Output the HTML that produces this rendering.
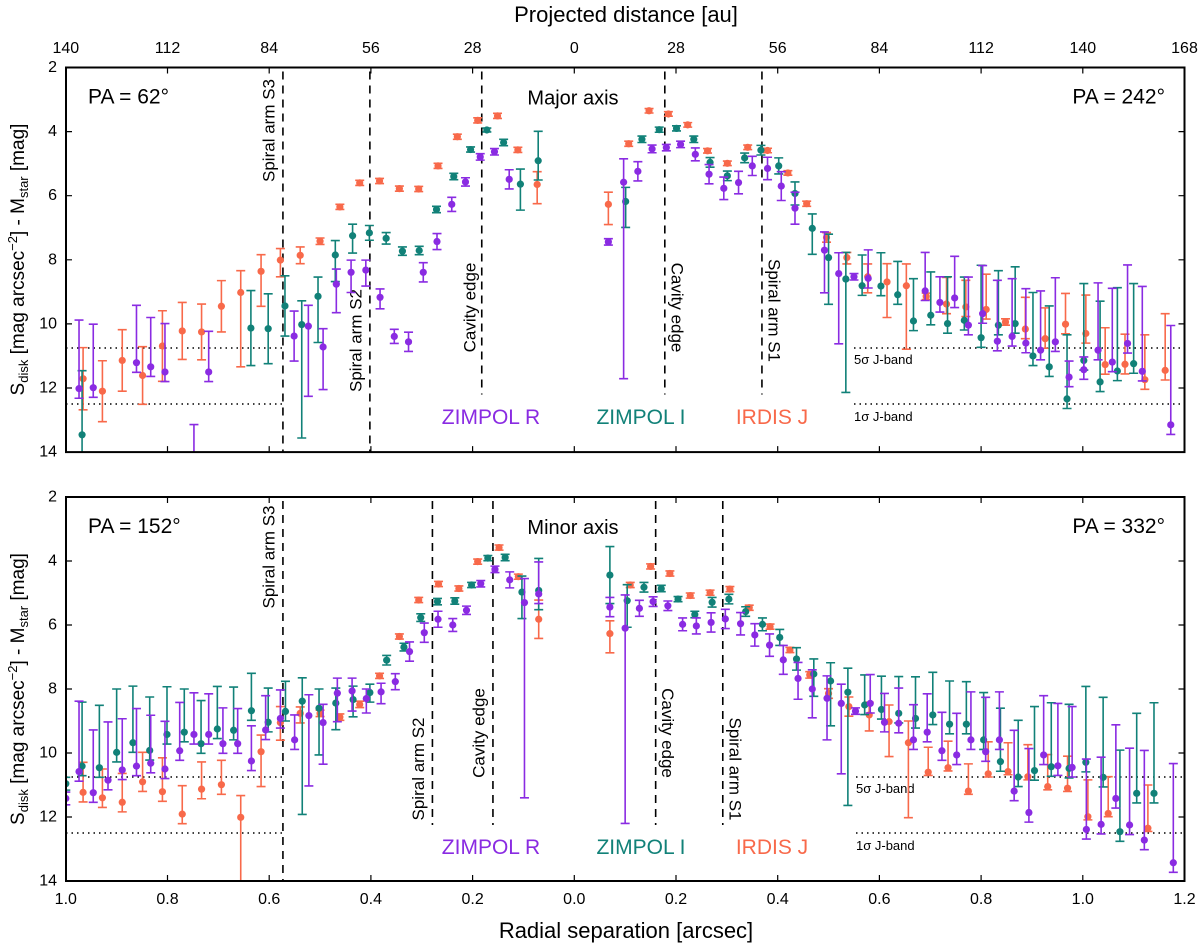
<!DOCTYPE html>
<html><head><meta charset="utf-8">
<style>
html,body{margin:0;padding:0;background:#fff;}
svg{display:block;font-family:"Liberation Sans",sans-serif;}
</style></head>
<body>
<svg id="chart" width="1200" height="948" viewBox="0 0 1200 948" xmlns="http://www.w3.org/2000/svg"></svg>
<script>
// ---------- DATA ----------
const xTicks = [-1.0,-0.8,-0.6,-0.4,-0.2,0.0,0.2,0.4,0.6,0.8,1.0,1.2];
const xTickLabels = ["1.0","0.8","0.6","0.4","0.2","0.0","0.2","0.4","0.6","0.8","1.0","1.2"];
const auTickLabels = ["140","112","84","56","28","0","28","56","84","112","140","168"];
const yTicks = [2,4,6,8,10,12,14];
const seriesNames = ["IRDIS J","ZIMPOL I","ZIMPOL R"];

// Top panel (major axis)
const topJ_r = [-0.966,-0.928,-0.889,-0.849,-0.810,-0.771,-0.733,-0.694,-0.656,-0.616,-0.578,-0.539,-0.500,-0.461,-0.422,-0.383,-0.344,-0.306,-0.268,-0.230,-0.190,-0.151,-0.111,-0.073,
 0.067,0.107,0.147,0.185,0.223,0.262,0.301,0.341,0.380,0.420,0.457,0.496,0.536,0.577,0.615,0.653,0.692,0.732,0.770,0.810,0.848,0.887,0.926,0.966,1.006,1.044,1.083,1.122,1.162];
const topJ_m = [11.71,12.10,11.14,11.61,10.69,10.22,10.25,9.45,9.02,8.36,8.01,7.86,7.42,6.35,5.60,5.54,5.78,5.79,5.07,4.16,3.65,3.51,4.57,5.65,
 6.27,4.38,3.35,3.45,3.79,4.60,4.99,4.49,4.59,5.29,6.25,7.30,7.93,8.53,8.69,8.81,9.14,9.38,9.47,9.55,9.94,10.16,10.46,10.01,10.30,11.27,11.26,11.74,11.45];
const topJ_up = [0.97,0.95,0.96,0.9,1.1,0.89,0.87,0.8,0.68,0.52,0.36,0.26,0.1,0.08,0.08,0.08,0.08,0.08,0.08,0.08,0.08,0.08,0.08,0.4,
 0.38,0.08,0.07,0.07,0.07,0.07,0.07,0.07,0.07,0.07,0.08,0.15,0.16,0.4,0.57,0.68,0.1,0.83,0.83,1.1,0.1,0.99,0.96,0.96,1.2,1.15,0.94,1.4,1.77];
const topJ_dn = [0.97,0.95,0.96,0.9,1.1,0.89,0.87,0.8,2.32,1.09,0.52,0.26,0.1,0.08,0.08,0.08,0.08,0.08,0.08,0.08,0.08,0.08,0.08,0.6,
 0.63,0.08,0.07,0.07,0.07,0.07,0.07,0.07,0.07,0.07,0.08,0.15,0.2,0.5,1.11,1.98,0.1,0.3,0.3,0.3,0.1,0.3,0.3,0.3,0.3,0.3,0.3,0.3,0.3];

const topI_r = [-0.968,-0.636,-0.602,-0.569,-0.536,-0.504,-0.470,-0.436,-0.403,-0.370,-0.338,-0.305,-0.271,-0.237,-0.204,-0.172,-0.139,-0.106,-0.071,
 0.101,0.133,0.167,0.201,0.235,0.267,0.301,0.335,0.367,0.402,0.434,0.468,0.500,0.534,0.566,0.603,0.636,0.667,0.701,0.734,0.767,0.800,0.834,0.867,0.902,0.934,0.969,1.002,1.034,1.068,1.100];
const topI_m = [13.46,10.13,10.15,9.44,10.02,9.14,7.85,7.25,7.16,7.33,7.73,7.71,6.43,5.40,4.56,3.95,4.34,5.64,4.91,
 6.18,4.24,3.94,3.90,4.24,4.96,5.38,4.82,4.58,5.07,5.93,7.02,7.93,8.60,8.81,8.82,9.09,9.91,9.73,9.99,9.89,10.43,10.04,9.99,11.0,11.34,12.34,11.14,11.81,11.47,11.24];
const topI_up = [2.0,1.17,1.09,0.94,0.74,0.6,0.45,0.36,0.23,0.18,0.13,0.13,0.1,0.1,0.08,0.06,0.1,0.47,0.92,
 0.44,0.1,0.08,0.08,0.1,0.15,0.15,0.15,0.15,0.25,0.36,0.45,0.73,0.83,0.96,1.04,1.04,1.32,1.35,1.46,1.35,2.26,1.7,1.77,1.98,1.9,2.0,2.4,2.52,2.6,2.5];
const topI_dn = [2.0,1.17,1.09,0.94,3.54,1.44,0.83,0.54,0.23,0.18,0.13,0.13,0.1,0.1,0.08,0.06,0.1,0.81,0.6,
 0.81,0.1,0.08,0.08,0.1,0.15,0.15,0.15,0.15,0.25,0.36,0.81,1.46,3.54,0.3,0.3,0.3,0.3,0.3,0.3,0.3,0.3,0.3,0.3,0.3,0.3,0.3,0.3,0.3,0.3,0.3];

const topR_r = [-0.974,-0.946,-0.861,-0.833,-0.805,-0.748,-0.719,-0.551,-0.523,-0.494,-0.468,-0.439,-0.410,-0.382,-0.354,-0.326,-0.297,-0.270,-0.241,-0.214,-0.185,-0.157,-0.128,
 0.067,0.097,0.125,0.153,0.181,0.209,0.238,0.265,0.294,0.323,0.350,0.380,0.407,0.434,0.492,0.520,0.550,0.578,0.690,0.719,0.748,0.775,0.803,0.832,0.861,0.888,0.917,0.946,0.973,1.002,1.030,1.058,1.088,1.117,1.173];
const topR_m = [12.02,11.99,11.21,11.34,11.50,14.6,11.50,10.38,10.07,10.72,8.76,8.39,8.32,9.17,10.39,10.56,8.39,7.43,6.27,5.57,4.79,4.63,5.49,
 7.44,5.58,5.24,4.54,4.50,4.40,4.71,5.33,5.77,5.59,5.07,5.15,5.70,6.39,7.70,8.43,8.53,8.58,8.97,9.33,9.19,10.04,9.68,10.54,10.39,10.6,10.82,10.56,11.66,11.43,10.82,11.19,10.61,11.48,13.15];
const topR_up = [2.14,1.98,1.79,1.54,1.51,1.46,1.27,0.78,0.65,0.57,0.47,0.38,0.31,0.26,0.22,0.3,0.3,0.25,0.22,0.13,0.1,0.1,0.3,
 0.1,0.73,0.3,0.12,0.1,0.1,0.2,0.3,0.35,0.35,0.3,0.35,0.45,0.5,0.57,0.65,0.1,0.89,1.2,0.8,1.3,1.5,1.5,1.9,1.8,1.7,1.85,2.0,0.5,0.4,2.1,2.3,2.45,2.65,3.1];
const topR_dn = [0.3,0.3,0.3,0.3,0.3,0.3,0.3,0.78,2.19,1.33,0.89,0.63,0.5,0.36,0.22,0.3,0.3,0.25,0.22,0.13,0.1,0.1,0.3,
 0.1,6.13,0.3,0.12,0.1,0.1,0.2,0.3,0.35,0.35,0.3,0.35,0.45,0.5,1.33,2.19,0.1,0.3,0.3,0.3,0.3,0.3,0.3,0.3,0.3,0.3,0.3,0.3,0.3,0.3,0.3,0.3,0.3,0.3,0.3];

// Bottom panel (minor axis)
const botJ_r = [-0.966,-0.928,-0.889,-0.849,-0.810,-0.771,-0.733,-0.694,-0.656,-0.616,-0.578,-0.539,-0.500,-0.461,-0.422,-0.383,-0.344,-0.306,-0.267,-0.227,-0.190,-0.148,-0.110,-0.070,
 0.070,0.110,0.150,0.188,0.228,0.267,0.306,0.344,0.385,0.424,0.463,0.500,0.540,0.580,0.619,0.657,0.696,0.735,0.775,0.814,0.853,0.892,0.931,0.970,1.010,1.050,1.128];
const botJ_m = [11.23,11.40,11.54,10.90,11.21,11.91,11.13,10.99,12.01,9.96,9.05,8.76,8.76,8.88,8.48,7.59,6.36,5.22,4.72,4.86,4.02,3.58,4.49,5.82,
 6.27,4.75,4.17,4.39,5.08,4.99,4.88,5.46,6.05,6.78,7.56,8.14,8.55,8.81,9.02,9.68,10.60,10.46,11.19,10.65,10.58,10.74,11.05,11.10,11.99,11.89,12.35];
const botJ_up = [0.94,0.9,0.9,0.92,1.06,0.89,0.85,0.76,0.68,0.52,0.5,0.2,0.1,0.1,0.1,0.08,0.08,0.08,0.08,0.08,0.08,0.08,0.08,0.6,
 0.4,0.08,0.08,0.08,0.08,0.08,0.08,0.08,0.08,0.08,0.1,0.15,0.3,0.4,0.52,0.68,0.78,0.83,0.85,1.0,0.9,1.0,1.0,1.0,1.15,1.15,1.35];
const botJ_dn = [0.3,0.3,0.3,0.3,0.3,0.3,0.3,0.3,2.5,1.09,0.55,0.3,0.1,0.1,0.1,0.08,0.08,0.08,0.08,0.08,0.08,0.08,0.08,0.6,
 0.6,0.08,0.08,0.08,0.08,0.08,0.08,0.08,0.08,0.08,0.1,0.15,0.3,0.5,1.09,2.34,0.1,0.1,0.1,0.1,0.1,0.1,0.1,0.1,0.1,0.1,0.1];

const botI_r = [-1.000,-0.968,-0.934,-0.900,-0.868,-0.835,-0.801,-0.767,-0.734,-0.702,-0.670,-0.635,-0.602,-0.568,-0.535,-0.502,-0.469,-0.435,-0.402,-0.369,-0.335,-0.302,-0.269,-0.235,-0.202,-0.170,-0.136,-0.103,-0.070,
 0.070,0.104,0.137,0.171,0.204,0.237,0.271,0.304,0.337,0.370,0.404,0.437,0.471,0.504,0.538,0.571,0.604,0.638,0.671,0.705,0.738,0.771,0.805,0.838,0.873,0.905,0.938,0.973,1.006,1.040,1.073,1.106,1.140];
const botI_m = [10.96,10.41,10.46,9.98,9.68,9.92,9.42,9.35,9.71,9.25,9.29,8.68,9.04,8.70,8.38,8.60,8.44,8.33,8.11,7.10,6.69,5.77,5.27,5.25,4.75,3.91,3.89,4.97,4.92,
 4.44,5.24,4.82,4.86,5.19,5.67,5.29,5.19,5.58,5.98,6.39,7.06,7.53,7.75,8.10,8.5,8.64,8.76,8.92,8.81,9.10,9.10,9.59,10.27,10.75,10.55,10.43,10.48,10.29,10.76,12.46,11.26,11.26];
const botI_up = [0.2,2.0,1.95,1.98,1.77,1.67,1.49,1.35,1.35,1.33,1.35,1.17,1.07,0.94,0.73,0.6,0.47,0.42,0.26,0.15,0.12,0.12,0.1,0.1,0.08,0.08,0.1,0.5,1.0,
 0.89,0.5,0.15,0.1,0.08,0.1,0.15,0.15,0.15,0.2,0.25,0.35,0.47,0.57,0.75,0.94,1.04,1.15,1.3,1.33,1.35,1.33,1.48,1.67,1.77,2.0,2.0,2.0,2.37,2.5,2.55,2.5,2.83];
const botI_dn = [0.2,0.3,0.3,0.3,0.3,0.3,0.3,0.3,0.3,0.3,0.3,0.3,0.3,0.3,3.54,1.46,0.83,0.54,0.3,0.15,0.12,0.12,0.1,0.1,0.08,0.08,0.1,0.83,0.6,
 0.89,0.83,0.15,0.1,0.08,0.1,0.15,0.15,0.15,0.2,0.25,0.35,0.7,1.4,3.54,0.3,0.3,0.3,0.3,0.3,0.3,0.3,0.3,0.3,0.3,0.3,0.3,0.3,0.3,0.3,0.3,0.3,0.3];

const botR_r = [-1.0,-0.974,-0.946,-0.917,-0.889,-0.861,-0.833,-0.805,-0.776,-0.748,-0.719,-0.691,-0.662,-0.635,-0.607,-0.578,-0.550,-0.522,-0.494,-0.466,-0.437,-0.409,-0.380,-0.352,-0.324,-0.295,-0.268,-0.239,-0.212,-0.184,-0.156,-0.127,-0.098,-0.070,
 0.070,0.100,0.128,0.155,0.184,0.213,0.240,0.269,0.297,0.327,0.355,0.384,0.411,0.440,0.468,0.497,0.525,0.553,0.582,0.610,0.638,0.667,0.694,0.723,0.752,0.780,0.809,0.836,0.865,0.894,0.923,0.951,0.979,1.007,1.036,1.065,1.092,1.121,1.178];
const botR_m = [11.42,10.58,11.24,10.85,10.53,10.41,10.32,10.50,9.93,9.42,9.42,9.71,9.71,10.25,9.28,8.92,9.59,8.83,9.05,8.13,8.06,8.30,8.09,7.77,6.83,6.24,5.82,6.0,5.54,4.71,4.26,4.59,5.30,5.03,
 5.44,6.10,5.48,5.27,5.40,5.98,6.03,5.92,5.81,5.96,6.31,6.63,7.09,7.67,8.0,8.29,8.45,8.69,8.45,9.04,9.07,9.59,9.35,9.93,10.06,9.59,9.96,9.59,11.19,11.86,10.06,10.40,10.45,12.39,12.23,11.42,12.25,12.72,13.43];
const botR_up = [0.2,2.2,1.96,1.82,1.6,1.8,1.5,1.49,1.51,1.3,1.27,1.12,1.1,1.1,1.07,0.89,0.78,0.65,0.57,0.47,0.4,0.3,0.27,0.25,0.3,0.3,0.25,0.2,0.13,0.1,0.1,0.25,0.75,1.0,
 0.3,1.04,0.25,0.15,0.15,0.2,0.25,0.3,0.3,0.35,0.35,0.35,0.45,0.5,0.6,0.7,0.6,0.1,0.9,0.9,1.1,1.1,1.2,1.2,1.3,1.5,1.7,1.5,1.9,2.0,1.85,1.95,1.9,2.2,2.1,2.3,2.4,2.8,3.1];
const botR_dn = [0.2,0.3,0.3,0.3,0.3,0.3,0.3,0.3,0.3,0.3,0.3,0.3,0.3,0.3,0.3,0.3,0.3,2.2,1.3,0.89,0.63,0.45,0.37,0.25,0.3,0.3,0.25,0.2,0.13,0.1,0.1,0.25,6.1,0.3,
 0.3,6.1,0.25,0.15,0.15,0.2,0.25,0.3,0.3,0.35,0.35,0.35,0.45,0.65,0.9,1.3,2.2,0.1,0.3,0.3,0.3,0.3,0.3,0.3,0.3,0.3,0.3,0.3,0.3,0.3,0.3,0.3,0.3,0.3,0.3,0.3,0.3,0.3,0.3];

// feature lines (arcsec, signed)
const topFeatureR = [-0.573,-0.402,-0.182,0.178,0.369];
const botFeatureR = [-0.573,-0.279,-0.160,0.160,0.292];
const sensitivityMags = [10.75,12.5];

// ---------- DRAWING ----------
const NS = "http://www.w3.org/2000/svg";
const svg = document.getElementById("chart");
const X0 = 574.3, XS = 508.5, XL = 66, XR = 1184.5;
function xPos(r){ return X0 + r*XS; }
const panels = [
  {key:"top", top:67.5, step:32.05},
  {key:"bottom", top:497, step:32}
];
function yPos(p, m){ return p.top + (m-2)*p.step; }
const colors = {J:"#f8694a", I:"#118178", R:"#8a2be2"};

function el(tag, attrs, parent){
  const e = document.createElementNS(NS, tag);
  for (const k in attrs) e.setAttribute(k, attrs[k]);
  (parent||svg).appendChild(e);
  return e;
}
function txt(s, attrs, parent){
  const t = el("text", attrs, parent);
  t.textContent = s;
  return t;
}

const defs = el("defs", {});
panels.forEach(p=>{
  const cp = el("clipPath", {id:"clip-"+p.key}, defs);
  el("rect", {x:XL, y:p.top, width:XR-XL, height:12*p.step}, cp);
});

function drawSeries(p, g, rs, ms, ups, dns, color, label){
  const sg = el("g", {"clip-path":"url(#clip-"+p.key+")"}, g);
  
  
  for (let i=0;i<rs.length;i++){
    const x = xPos(rs[i]);
    const y = yPos(p, ms[i]);
    const y1 = yPos(p, ms[i]-ups[i]);
    const y2 = yPos(p, ms[i]+dns[i]);
    const eb = el("path", {d:`M${x},${y1}V${y2}M${x-4.5},${y1}H${x+4.5}M${x-4.5},${y2}H${x+4.5}`, stroke:color, "stroke-width":1.6, fill:"none"}, sg);
    
    
    const c = el("circle", {cx:x, cy:y, r:3.6, fill:color}, sg);
    
    
  }
}

panels.forEach((p,pi)=>{
  const g = el("g", {});
  
  
  const bottom = yPos(p,14);
  // sensitivity lines
  sensitivityMags.forEach(m=>{
    const y = yPos(p,m);
    const l1 = el("line",{x1:XL,x2:xPos(-0.57),y1:y,y2:y,stroke:"#000","stroke-width":1.5,"stroke-dasharray":"1.5,4"},g);
    
    
    const l2 = el("line",{x1:pi===0?854:856,x2:XR,y1:y,y2:y,stroke:"#000","stroke-width":1.5,"stroke-dasharray":"1.5,4"},g);
    
    
  });
  txt("5σ J-band",{x:pi===0?854:856,y:yPos(p,10.75)+16,"font-size":13,fill:"#000"},g);
  txt("1σ J-band",{x:pi===0?854:856,y:yPos(p,12.5)+17,"font-size":13,fill:"#000"},g);

  // feature dashed lines
  const fr = pi===0 ? topFeatureR : botFeatureR;
  fr.forEach((r,i)=>{
    const x = xPos(r);
    const yEnd = (i===0 || (pi===0 && i===1)) ? bottom : p.top + (pi===0?327:328);
    const ln = el("line",{x1:x,x2:x,y1:p.top+4,y2:yEnd,stroke:"#000","stroke-width":1.6,"stroke-dasharray":"8,6"},g);
    
    
  });
  const labs = pi===0 ? [
    ["Spiral arm S3", xPos(-0.573)-14, p.top+63, -90],
    ["Spiral arm S2", xPos(-0.402)-14, p.top+273, -90],
    ["Cavity edge", xPos(-0.182)-12, p.top+240, -90],
    ["Cavity edge", xPos(0.178)+12, p.top+240, 90],
    ["Spiral arm S1", xPos(0.369)+12, p.top+243, 90]
  ] : [
    ["Spiral arm S3", xPos(-0.573)-14, p.top+60, -90],
    ["Spiral arm S2", xPos(-0.279)-14, p.top+272, -90],
    ["Cavity edge", xPos(-0.160)-14, p.top+236, -90],
    ["Cavity edge", xPos(0.160)+12, p.top+236, 90],
    ["Spiral arm S1", xPos(0.292)+12, p.top+272, 90]
  ];
  labs.forEach(([s,x,y,rot])=>{
    const t = txt(s,{x:0,y:0,"font-size":17,fill:"#000","text-anchor":"middle","dominant-baseline":"central",transform:`translate(${x},${y}) rotate(${rot})`},g);
    
    
  });

  // data
  if (pi===0){
    drawSeries(p,g,topJ_r,topJ_m,topJ_up,topJ_dn,colors.J,"irdis-j");
    drawSeries(p,g,topI_r,topI_m,topI_up,topI_dn,colors.I,"zimpol-i");
    drawSeries(p,g,topR_r,topR_m,topR_up,topR_dn,colors.R,"zimpol-r");
  } else {
    drawSeries(p,g,botJ_r,botJ_m,botJ_up,botJ_dn,colors.J,"irdis-j");
    drawSeries(p,g,botI_r,botI_m,botI_up,botI_dn,colors.I,"zimpol-i");
    drawSeries(p,g,botR_r,botR_m,botR_up,botR_dn,colors.R,"zimpol-r");
  }

  // frame
  const fr2 = el("rect",{x:XL,y:p.top,width:XR-XL,height:12*p.step,fill:"none",stroke:"#000","stroke-width":2},g);
  
  
  // ticks
  let td = "";
  xTicks.forEach(r=>{ const x=xPos(r); td+=`M${x},${p.top}v6M${x},${bottom}v-6`; });
  yTicks.forEach(m=>{ const y=yPos(p,m); td+=`M${XL},${y}h6M${XR},${y}h-6`; });
  el("path",{d:td,stroke:"#000","stroke-width":1.2,fill:"none"},g);
  yTicks.forEach(m=>{
    const t = txt(String(m),{x:XL-9,y:yPos(p,m),"font-size":16,"text-anchor":"end","dominant-baseline":"central"},g);
    
  });
  // annotations
  txt(pi===0?"PA = 62°":"PA = 152°",{x:88,y:p.top+36,"font-size":21},g);
  txt(pi===0?"PA = 242°":"PA = 332°",{x:1165,y:p.top+36,"font-size":21,"text-anchor":"end"},g);
  txt(pi===0?"Major axis":"Minor axis",{x:573,y:p.top+37,"font-size":20,"text-anchor":"middle"},g);
  const ly = pi===0 ? 424 : 854;
  txt("ZIMPOL R",{x:491,y:ly,"font-size":21,fill:colors.R,"text-anchor":"middle"},g);
  txt("ZIMPOL I",{x:641,y:ly,"font-size":21,fill:colors.I,"text-anchor":"middle"},g);
  txt("IRDIS J",{x:772,y:ly,"font-size":21,fill:colors.J,"text-anchor":"middle"},g);

  // y-axis title
  const yt = el("text",{transform:`translate(24,${p.top+192}) rotate(-90)`,"font-size":19,"text-anchor":"middle"},g);
  
  
  yt.innerHTML = 'S<tspan font-size="13" dy="4">disk</tspan><tspan dy="-4"> [mag arcsec</tspan><tspan font-size="13" dy="-7">−2</tspan><tspan dy="7">] - M</tspan><tspan font-size="13" dy="4">star</tspan><tspan dy="-4"> [mag]</tspan>';
});

// top au axis
xTicks.forEach((r,i)=>{
  const t = txt(auTickLabels[i],{x:xPos(r),y:53,"font-size":16,"text-anchor":"middle"});
  
  
});
txt("Projected distance [au]",{x:626,y:22,"font-size":22,"text-anchor":"middle"});
// bottom arcsec axis
xTicks.forEach((r,i)=>{
  const t = txt(xTickLabels[i],{x:xPos(r),y:904,"font-size":16,"text-anchor":"middle"});
  
  
});
txt("Radial separation [arcsec]",{x:626,y:938,"font-size":22,"text-anchor":"middle"});
</script>
</body></html>
